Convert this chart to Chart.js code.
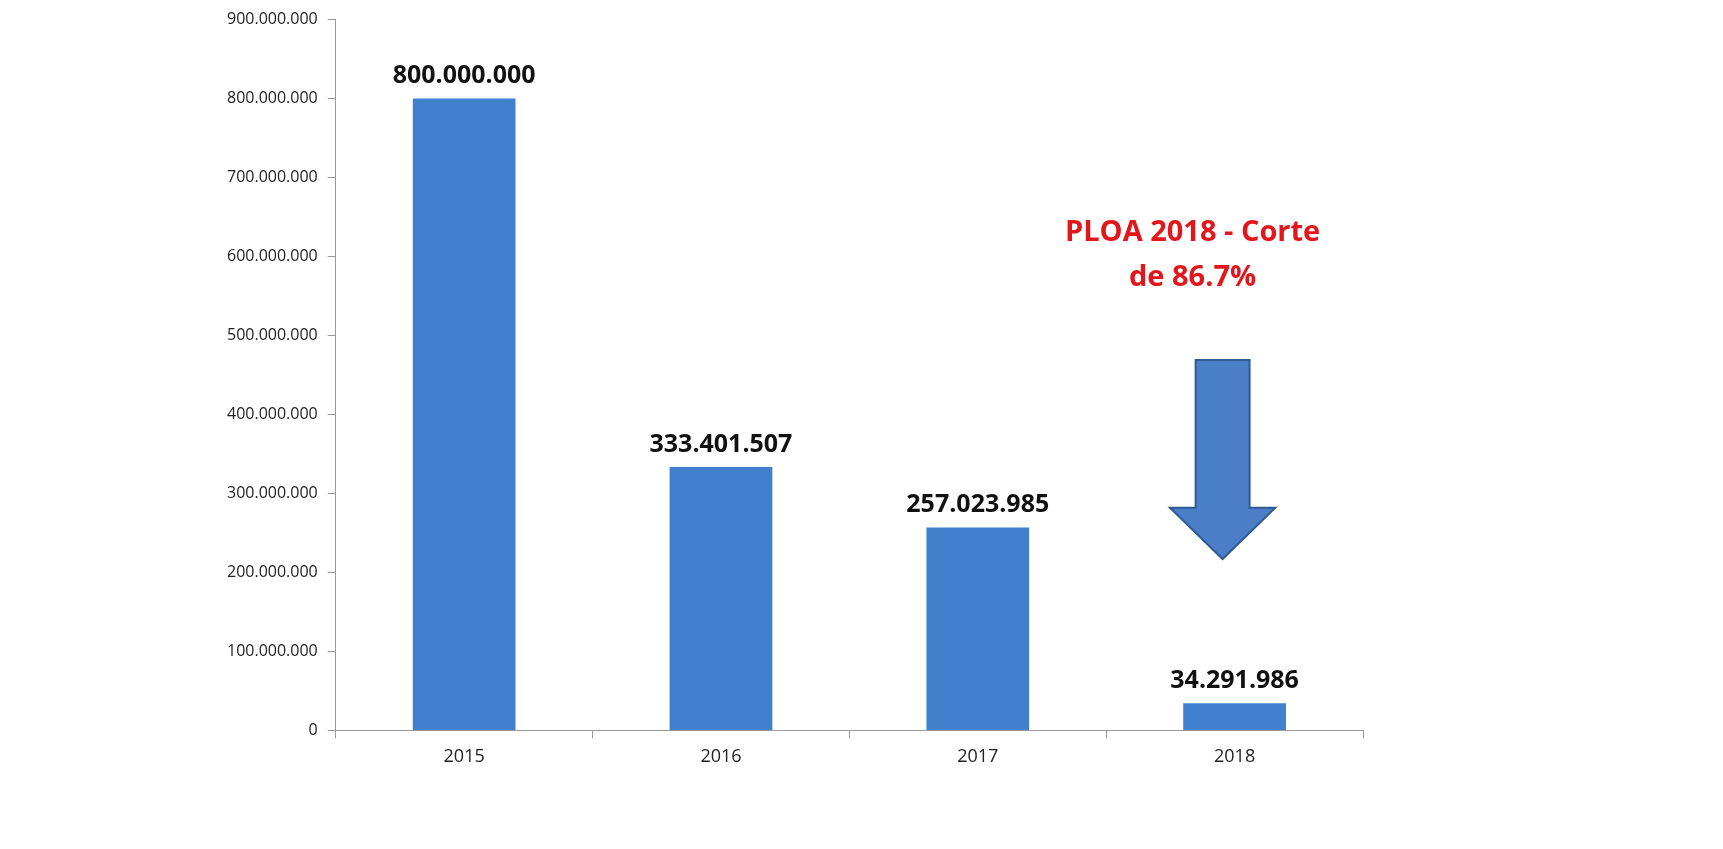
<!DOCTYPE html>
<html>
<head>
<meta charset="utf-8">
<script src="https://cdn.jsdelivr.net/npm/chart.js@4"></script>
<style>
  html, body { margin: 0; padding: 0; background: #fff; }
  #wrap { width: 1723px; height: 849px; }
</style>
</head>
<body>
<div id="wrap"><canvas id="chart"></canvas></div>
<script>
const years = ['2015', '2016', '2017', '2018'];
const amounts = [800000000, 333401507, 257023985, 34291986];
const calloutLines = ['PLOA 2018 - Corte', 'de 86.7%'];
// arrow in data units: [shaft top, shaft bottom, tip]
const arrowLevels = [469000000, 282000000, 217000000];

const fmt = v => v.toLocaleString('de-DE');

// value labels above each bar
const barLabels = {
  id: 'barLabels',
  afterDatasetsDraw(chart) {
    const { ctx } = chart;
    const meta = chart.getDatasetMeta(0);
    ctx.save();
    ctx.font = 'bold 25px "Open Sans", sans-serif';
    ctx.fillStyle = '#111';
    ctx.textAlign = 'center';
    ctx.textBaseline = 'bottom';
    meta.data.forEach((bar, i) => {
      ctx.fillText(fmt(amounts[i]), bar.x, bar.y - 10);
    });
    ctx.restore();
  }
};

// red callout text and down arrow over the last category
const callout = {
  id: 'callout',
  afterDraw(chart) {
    const { ctx, scales: { x, y } } = chart;
    const cx = x.getPixelForValue(3) - 12;
    const half = x.width / years.length;
    ctx.save();
    ctx.font = 'bold 29px "Open Sans", sans-serif';
    ctx.fillStyle = '#e3161b';
    ctx.textAlign = 'center';
    ctx.fillText(calloutLines[0], cx - 30, y.getPixelForValue(620000000));
    ctx.fillText(calloutLines[1], cx - 30, y.getPixelForValue(563000000));

    const top = y.getPixelForValue(arrowLevels[0]);
    const mid = y.getPixelForValue(arrowLevels[1]);
    const tip = y.getPixelForValue(arrowLevels[2]);
    const shaft = half * 0.105;
    const head = half * 0.205;
    ctx.beginPath();
    ctx.moveTo(cx - shaft, top);
    ctx.lineTo(cx + shaft, top);
    ctx.lineTo(cx + shaft, mid);
    ctx.lineTo(cx + head, mid);
    ctx.lineTo(cx, tip);
    ctx.lineTo(cx - head, mid);
    ctx.lineTo(cx - shaft, mid);
    ctx.closePath();
    ctx.fillStyle = '#4a7fc8';
    ctx.fill();
    ctx.lineWidth = 2;
    ctx.strokeStyle = '#2f5a94';
    ctx.stroke();
    ctx.restore();
  }
};

new Chart(document.getElementById('chart'), {
  type: 'bar',
  data: {
    labels: years,
    datasets: [{
      data: amounts,
      backgroundColor: '#4080cc',
      categoryPercentage: 1,
      barPercentage: 0.4
    }]
  },
  options: {
    responsive: true,
    maintainAspectRatio: false,
    animation: false,
    layout: { padding: { top: 18, right: 360, bottom: 73, left: 217 } },
    plugins: { legend: { display: false }, tooltip: { enabled: false } },
    scales: {
      x: {
        grid: { offset: true, drawOnChartArea: false, tickLength: 8, color: '#999' },
        border: { color: '#999' },
        ticks: { font: { size: 18, family: '"Open Sans", sans-serif' }, color: '#222', padding: 8 }
      },
      y: {
        min: 0,
        max: 900000000,
        grid: { drawOnChartArea: false, tickLength: 8, color: '#999' },
        border: { color: '#999' },
        ticks: {
          stepSize: 100000000,
          font: { size: 16, family: '"Open Sans", sans-serif' },
          color: '#222',
          padding: 10,
          callback: v => fmt(v)
        }
      }
    }
  },
  plugins: [barLabels, callout]
});
</script>
</body>
</html>
